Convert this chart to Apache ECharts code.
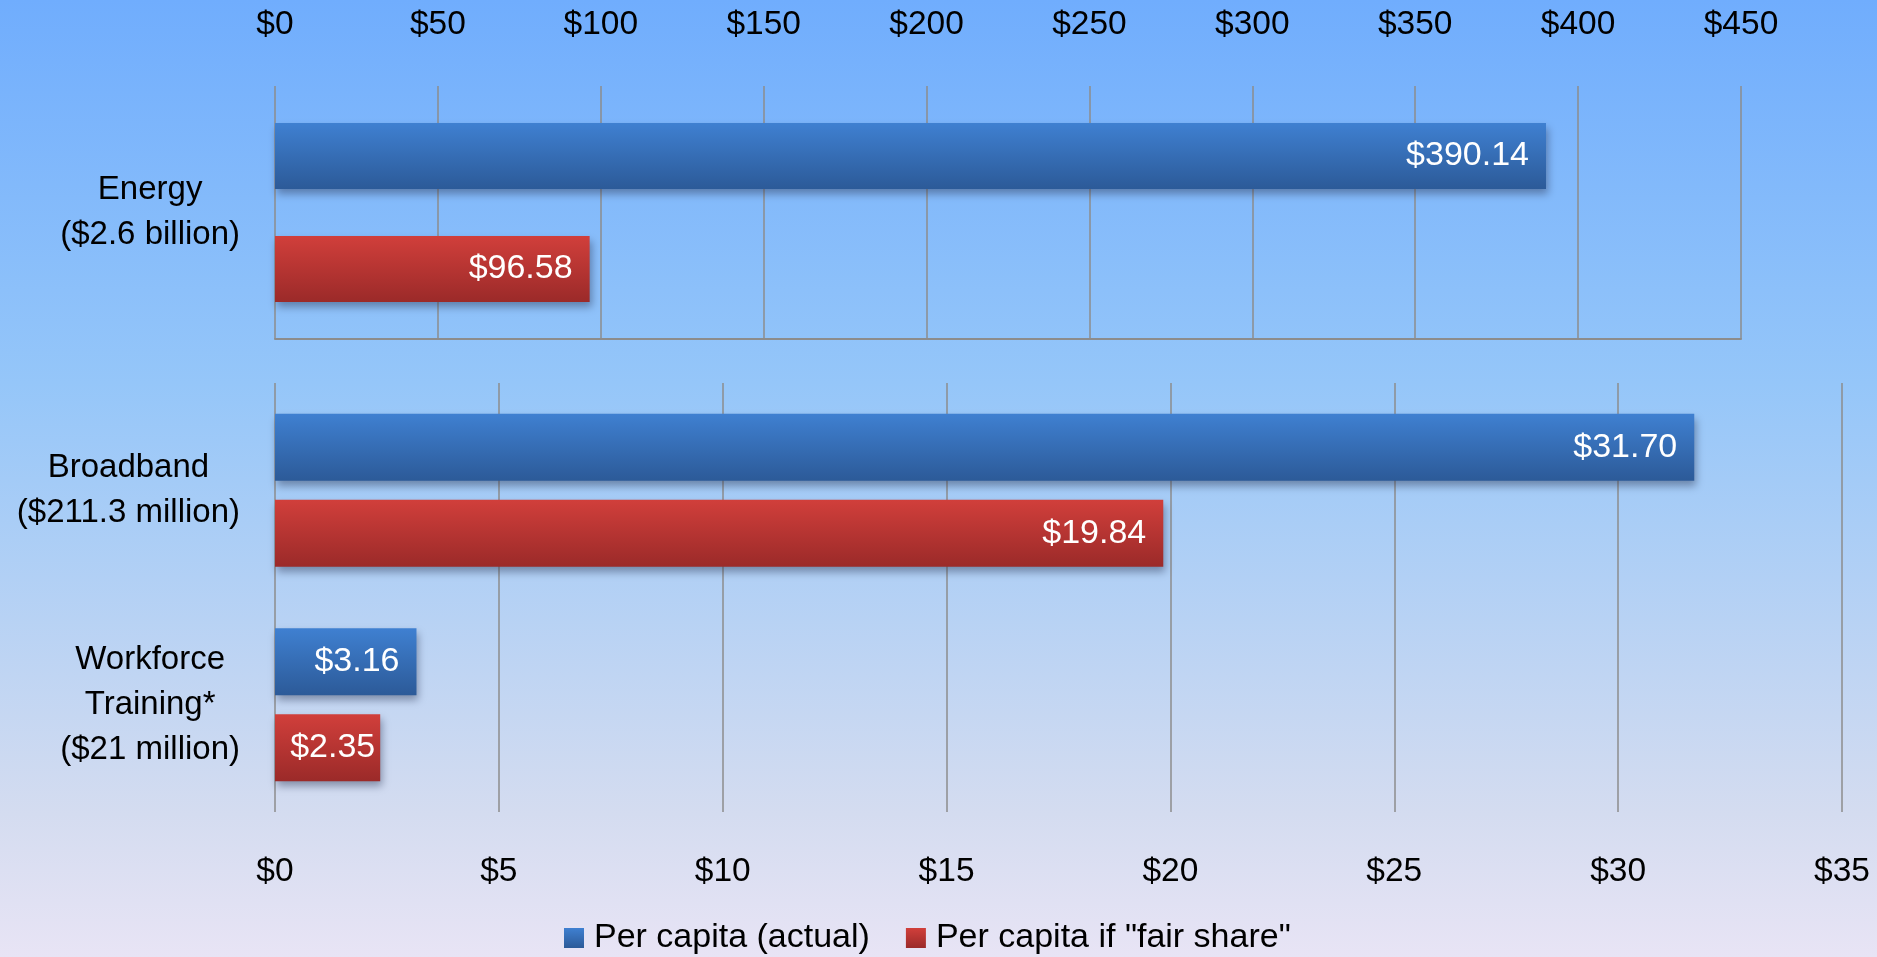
<!DOCTYPE html>
<html>
<head>
<meta charset="utf-8">
<title>Per capita funding</title>
<script src="https://cdn.jsdelivr.net/npm/echarts@6/dist/echarts.min.js"></script>
<style>
  html, body { margin: 0; padding: 0; }
  #chart { width: 1877px; height: 957px; }
</style>
</head>
<body>
<div id="chart"></div>
<script>
// Program categories (upper panel uses its own $ scale)
const energyCategories = ['Energy\n($2.6 billion)'];
const otherCategories = ['Broadband\n($211.3 million)', 'Workforce\nTraining*\n($21 million)'];

// Per-capita values, in dollars
const energyActual = [390.14];
const energyFairShare = [96.58];
const otherActual = [31.70, 3.16];
const otherFairShare = [19.84, 2.35];

// Axis ranges
const energyAxis = { min: 0, max: 450, interval: 50 };
const otherAxis = { min: 0, max: 35, interval: 5 };

const seriesNames = ['Per capita (actual)', 'Per capita if "fair share"'];

const FONT = 'Liberation Sans, Arial, sans-serif';
const GRID_LINE = '#8c8c8c';

const blueFill = new echarts.graphic.LinearGradient(0, 0, 0, 1, [
  { offset: 0, color: '#3f80d1' },
  { offset: 1, color: '#2c5a98' }
]);
const redFill = new echarts.graphic.LinearGradient(0, 0, 0, 1, [
  { offset: 0, color: '#d13f3b' },
  { offset: 1, color: '#9b2a29' }
]);

const dollars = v => '$' + v;
const dollarsCents = p => '$' + Number(p.value).toFixed(2);

// Category names: block right-aligned to the axis, each line centred in the block
const categoryLabel = {
  color: '#000',
  align: 'right',
  margin: 35,
  formatter: v => v.split('\n').map(s => '{c|' + s + '}').join('\n'),
  rich: {
    c: { align: 'center', fontSize: 33, lineHeight: 45, fontFamily: FONT, color: '#000' }
  }
};

function barSeries(name, data, fill, xIdx, yIdx, width, gap) {
  return {
    type: 'bar',
    name: name,
    data: data,
    xAxisIndex: xIdx,
    yAxisIndex: yIdx,
    barWidth: width,
    barGap: gap,
    itemStyle: {
      color: fill,
      shadowColor: 'rgba(40,50,80,0.45)',
      shadowBlur: 8,
      shadowOffsetX: 2,
      shadowOffsetY: 5
    },
    label: {
      show: true,
      position: 'insideRight',
      distance: 17,
      formatter: dollarsCents,
      color: '#ffffff',
      fontFamily: FONT,
      fontSize: 34
    },
    labelLayout: function (params) {
      // short bars: keep the label inside, pushed toward the bar end
      const r = params.rect, lr = params.labelRect;
      if (lr.x < r.x + 20) {
        return {
          x: r.x + r.width - 5 - lr.width / 2,
          y: r.y + r.height / 2,
          align: 'center',
          verticalAlign: 'middle'
        };
      }
      return {};
    },
    z: 3
  };
}

const chart = echarts.init(document.getElementById('chart'), null, { renderer: 'canvas' });

chart.setOption({
  animation: false,
  backgroundColor: new echarts.graphic.LinearGradient(0, 0, 0, 1, [
    { offset: 0, color: '#70adfd' },
    { offset: 0.4, color: '#95c6f9' },
    { offset: 0.85, color: '#d4dcf0' },
    { offset: 1, color: '#e8e4f5' }
  ]),
  textStyle: { fontFamily: FONT },
  grid: [
    { left: 275, right: 136, top: 86, height: 253 },
    { left: 275, right: 35, top: 383, height: 429 }
  ],
  xAxis: [
    {
      type: 'value', gridIndex: 0, position: 'top',
      min: energyAxis.min, max: energyAxis.max, interval: energyAxis.interval,
      axisLine: { show: false }, axisTick: { show: false },
      splitLine: { show: true, lineStyle: { color: GRID_LINE, width: 1.5 } },
      axisLabel: { formatter: dollars, color: '#000', fontSize: 33.5, margin: 44, fontFamily: FONT }
    },
    {
      type: 'value', gridIndex: 0, position: 'bottom',
      min: energyAxis.min, max: energyAxis.max, interval: energyAxis.interval,
      axisLine: { show: true, lineStyle: { color: GRID_LINE, width: 2 } },
      axisTick: { show: false }, axisLabel: { show: false }, splitLine: { show: false }
    },
    {
      type: 'value', gridIndex: 1, position: 'bottom',
      min: otherAxis.min, max: otherAxis.max, interval: otherAxis.interval,
      axisLine: { show: false }, axisTick: { show: false },
      splitLine: { show: true, lineStyle: { color: GRID_LINE, width: 1.5 } },
      axisLabel: { formatter: dollars, color: '#000', fontSize: 33.5, margin: 43, fontFamily: FONT }
    }
  ],
  yAxis: [
    {
      type: 'category', gridIndex: 0, data: energyCategories, inverse: true,
      axisLine: { show: false }, axisTick: { show: false }, splitLine: { show: false },
      axisLabel: categoryLabel
    },
    {
      type: 'category', gridIndex: 1, data: otherCategories, inverse: true,
      axisLine: { show: false }, axisTick: { show: false }, splitLine: { show: false },
      axisLabel: categoryLabel
    }
  ],
  legend: {
    data: seriesNames,
    top: 916,
    left: 559,
    icon: 'rect',
    itemWidth: 20,
    itemHeight: 20,
    itemGap: 36,
    textStyle: { color: '#000', fontSize: 34, fontFamily: FONT, padding: [0, 0, 0, 5] }
  },
  series: [
    barSeries(seriesNames[0], energyActual, blueFill, 0, 0, 66, '71%'),
    barSeries(seriesNames[1], energyFairShare, redFill, 0, 0, 66, '71%'),
    barSeries(seriesNames[0], otherActual, blueFill, 2, 1, 67, '28%'),
    barSeries(seriesNames[1], otherFairShare, redFill, 2, 1, 67, '28%')
  ]
});
</script>
</body>
</html>
